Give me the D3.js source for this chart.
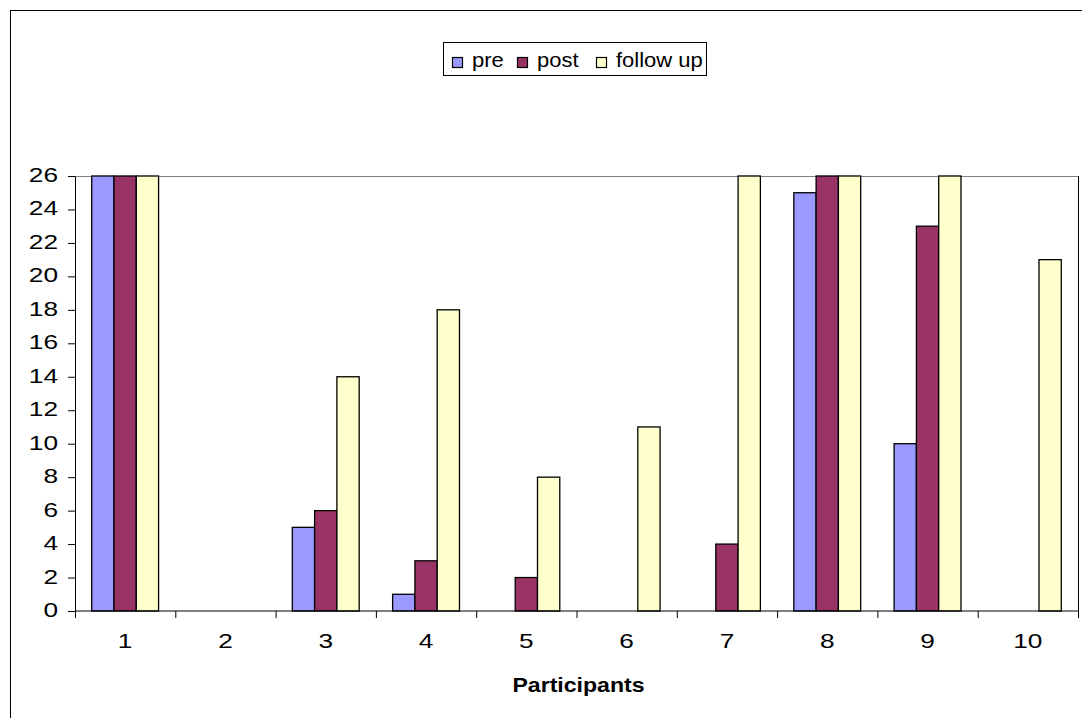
<!DOCTYPE html>
<html>
<head>
<meta charset="utf-8">
<script src="https://cdn.jsdelivr.net/npm/d3@7"></script>
<style>
  body { margin: 0; background: #fff; }
  svg { display: block; font-family: "Liberation Sans", Arial, sans-serif; }
</style>
</head>
<body>
<svg id="chart" width="1082" height="718"></svg>
<script>
// chart data
var participants = ["1", "2", "3", "4", "5", "6", "7", "8", "9", "10"];
var seriesNames = ["pre", "post", "follow up"];
var preValues = [26, 0, 5, 1, 0, 0, 0, 25, 10, 0];
var postValues = [26, 0, 6, 3, 2, 0, 4, 26, 23, 0];
var followValues = [26, 0, 14, 18, 8, 11, 26, 26, 26, 21];
var yTicks = [0, 2, 4, 6, 8, 10, 12, 14, 16, 18, 20, 22, 24, 26];
var colors = ["#9999ff", "#993366", "#ffffcc"];

var svg = d3.select("#chart");

// outer chart border (runs off the right and bottom edge)
svg.append("rect")
    .attr("x", 10.5).attr("y", 10.5)
    .attr("width", 1100).attr("height", 800)
    .attr("fill", "none").attr("stroke", "#000").attr("stroke-width", 1);

var plotLeft = 75, plotRight = 1078, plotTop = 176, plotBottom = 611;

var x = d3.scaleBand().domain(participants).range([plotLeft, plotRight]);
var xInner = d3.scaleBand().domain(seriesNames)
    .range([0, x.bandwidth()]).paddingInner(0).paddingOuter(0.75);
var y = d3.scaleLinear().domain([0, 26]).range([plotBottom, plotTop]);

// plot area border: grey top, dark right
svg.append("line")
    .attr("x1", plotLeft).attr("x2", plotRight)
    .attr("y1", plotTop + 0.5).attr("y2", plotTop + 0.5)
    .attr("stroke", "#808080");
svg.append("line")
    .attr("x1", plotRight + 0.5).attr("x2", plotRight + 0.5)
    .attr("y1", plotTop).attr("y2", plotBottom)
    .attr("stroke", "#000");

var series = [preValues, postValues, followValues];

var g = svg.append("g");
series.forEach(function (vals, s) {
    g.selectAll(".bar" + s)
        .data(vals)
        .enter().append("rect")
        .attr("x", (d, i) => x(participants[i]) + xInner(seriesNames[s]))
        .attr("y", d => y(d))
        .attr("width", xInner.bandwidth())
        .attr("height", d => plotBottom - y(d))
        .attr("fill", colors[s])
        .attr("stroke", "#000")
        .attr("stroke-width", 1.3)
        .style("display", d => d > 0 ? null : "none");
});

// y axis
var yAxis = svg.append("g")
    .attr("transform", "translate(" + plotLeft + ",0)")
    .call(d3.axisLeft(y).tickValues(yTicks).tickSize(7).tickSizeOuter(0).tickPadding(10));
yAxis.selectAll("line").attr("stroke", "#000");
yAxis.select(".domain").attr("stroke", "#000");
// the reference's numbers are drawn a bit wide, so stretch them
yAxis.selectAll("text")
    .attr("x", 0)
    .attr("dy", "0.26em")
    .attr("transform", "translate(-17,0) scale(1.25,1)")
    .attr("font-size", 21).attr("fill", "#000")
    .style("font-family", "Liberation Sans, Arial, sans-serif");

// x axis with ticks at category boundaries
var xAxis = svg.append("g").attr("transform", "translate(0," + plotBottom + ")");
xAxis.append("line").attr("x1", plotLeft).attr("x2", plotRight).attr("stroke", "#000");
var bounds = participants.map(p => x(p)).concat([plotRight]);
xAxis.selectAll(".tk").data(bounds).enter().append("line")
    .attr("x1", d => d + 0.5).attr("x2", d => d + 0.5)
    .attr("y1", 0).attr("y2", 7).attr("stroke", "#000");
xAxis.selectAll(".lbl").data(participants).enter().append("text")
    .attr("transform", d => "translate(" + (x(d) + x.bandwidth() / 2) + ",37) scale(1.25,1)")
    .attr("text-anchor", "middle")
    .attr("font-size", 21)
    .text(d => d);

svg.append("text")
    .attr("transform", "translate(" + ((plotLeft + plotRight) / 2 + 2) + ",692) scale(1.1,1)")
    .attr("text-anchor", "middle")
    .attr("font-size", 21)
    .attr("font-weight", "bold")
    .text("Participants");

// legend
var legend = svg.append("g");
legend.append("rect")
    .attr("x", 443.5).attr("y", 42.5)
    .attr("width", 263).attr("height", 33)
    .attr("fill", "#fff").attr("stroke", "#000");
var legendX = [452, 517, 596];
seriesNames.forEach(function (name, s) {
    legend.append("rect")
        .attr("x", legendX[s] + 0.5).attr("y", 57.5)
        .attr("width", 10).attr("height", 10)
        .attr("fill", colors[s]).attr("stroke", "#000").attr("stroke-width", 1.2);
    legend.append("text")
        .attr("transform", "translate(" + (legendX[s] + 20) + ",67) scale(1.1,1)")
        .attr("font-size", 20)
        .text(name);
});
</script>
</body>
</html>
